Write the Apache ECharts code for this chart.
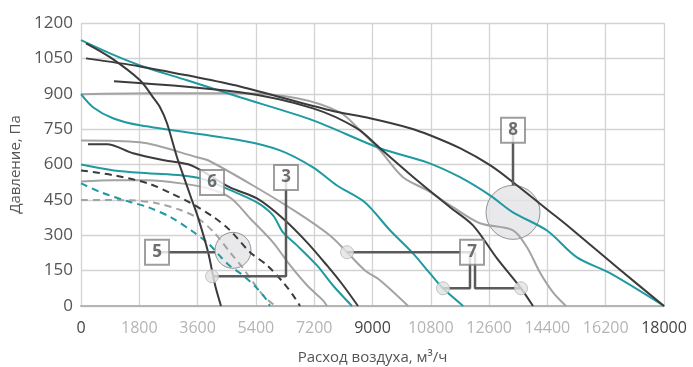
<!DOCTYPE html>
<html>
<head>
<meta charset="utf-8">
<script src="https://cdn.jsdelivr.net/npm/echarts@6/dist/echarts.min.js"></script>
<style>
html,body{margin:0;padding:0;background:#fff;}
#chart{width:693px;height:367px;}
</style>
</head>
<body>
<div id="chart"></div>
<script>
// ---- axis ticks ----
const xTicks = [0,1800,3600,5400,7200,9000,10800,12600,14400,16200,18000];
const yTicks = [0,150,300,450,600,750,900,1050,1200];
const xDarkLabels = [0,9000,18000];

// ---- curves: [flow m3/h, pressure Pa] ----
const teal1 = [[0,1127],[895,1071],[1822,1020],[3273,957],[4909,885],[7163,787],[9231,669],[10683,609],[11701,546],[12628,469],[13338,397],[14387,320],[15314,206],[16333,139],[18000,0]];
const teal2 = [[0,898],[370,843],[988,796],[1822,766],[4909,703],[6144,660],[7163,588],[7904,511],[8769,439],[9540,321],[10250,223],[10775,138],[11177,75],[11800,0]];
const teal3 = [[0,600],[1019,575],[2069,563],[3087,554],[3705,541],[4631,490],[5434,439],[5928,384],[6237,312],[6669,257],[7286,172],[7780,87],[8367,0]];
const tealDash = [[0,520],[618,482],[1544,440],[2069,419],[2779,376],[3396,321],[3921,266],[4323,207],[4600,170],[5002,130],[5434,75],[5743,24],[5835,0]];

const dark1 = [[154,1050],[1822,1016],[3273,978],[4909,931],[7688,830],[8923,796],[10158,754],[10776,724],[11701,669],[12628,597],[13338,525],[14480,400],[15098,332],[16549,164],[18000,0]];
const dark2 = [[154,1114],[895,1055],[1822,957],[2223,885],[2439,843],[2655,775],[2964,631],[3211,533],[3396,460],[3612,376],[3921,230],[4137,90],[4323,0]];
const dark3 = [[1019,953],[4909,906],[7163,838],[8522,753],[9231,669],[10374,533],[11393,419],[12103,342],[12844,202],[13585,75],[13955,0]];
const dark4 = [[216,686],[803,686],[1606,648],[2563,618],[3396,597],[4600,503],[5434,456],[6237,371],[6978,270],[7595,172],[8089,88],[8552,0]];
const darkDash = [[0,575],[1019,554],[2069,520],[2779,478],[3396,436],[4106,376],[4600,321],[5218,228],[5743,173],[6237,101],[6545,46],[6762,0]];

const gray1 = [[0,898],[2130,902],[4909,902],[6669,881],[7997,821],[8614,745],[9231,660],[9942,546],[10683,491],[11485,419],[12319,351],[13338,321],[13770,249],[14171,142],[14573,58],[14975,0]];
const gray2 = [[0,702],[1822,694],[3582,631],[3921,618],[5311,511],[6669,397],[7688,299],[8213,228],[8769,151],[9231,109],[10100,0]];
const gray3 = [[0,528],[1019,533],[2069,533],[3087,520],[3921,499],[4631,457],[5218,372],[5928,270],[6453,173],[6978,88],[7472,24],[7595,0]];
const grayDash = [[0,450],[1544,448],[2377,435],[3087,406],[3612,372],[4106,312],[4600,228],[5002,160],[5311,101],[5619,46],[5990,0]];

// ---- annotations ----
const bigCircles = [[4693,236,36],[13338,397,54]];          // [flow, Pa, diameter]
const smallMarkers = [[4045,126],[8213,228],[11177,75],[13585,75]];
const labelBoxes = [['3',6329,545],['5',2347,228],['6',4045,524],['7',12072,228],['8',13338,745]];
const leaders = [
  [[13338,745],[13338,512]],
  [[2347,228],[4137,228]],
  [[6329,545],[6329,126],[4045,126]],
  [[12072,228],[8213,228]],
  [[12010,228],[12010,75],[11177,75]],
  [[12165,228],[12165,75],[13585,75]]
];

const TEAL = '#1e9aa0', DARK = '#3b3b3b', GRAY = '#a3a3a3';
const FONT = 'Open Sans, Lato, sans-serif';

function curve(data, color, dashed) {
  return {
    type: 'line', data: data, smooth: 0.3, symbol: 'none', z: 3,
    lineStyle: { color: color, width: 2, type: dashed ? [7, 5] : 'solid' },
    silent: true, animation: false
  };
}

const series = [
  {
    type: 'scatter', z: 2, silent: true, animation: false,
    data: bigCircles.map(c => ({ value: [c[0], c[1]], symbolSize: c[2] })),
    itemStyle: { color: '#e3e4e6', borderColor: '#7a7a7a', borderWidth: 1 }
  },
  curve(gray1, GRAY), curve(gray2, GRAY), curve(gray3, GRAY), curve(grayDash, GRAY, true),
  curve(teal1, TEAL), curve(teal2, TEAL), curve(teal3, TEAL), curve(tealDash, TEAL, true),
  curve(dark1, DARK), curve(dark2, DARK), curve(dark3, DARK), curve(dark4, DARK), curve(darkDash, DARK, true)
];
leaders.forEach(l => series.push({
  type: 'line', data: l, symbol: 'none', z: 4, silent: true, animation: false,
  lineStyle: { color: '#5a5a5a', width: 2.5 }
}));
series.push({
  type: 'scatter', z: 5, silent: true, animation: false, symbolSize: 13,
  data: smallMarkers,
  itemStyle: { color: '#e2e2e2', borderColor: '#b5b5b5', borderWidth: 1 }
});
series.push({
  type: 'scatter', z: 6, silent: true, animation: false, symbol: 'rect', symbolSize: [24, 25],
  data: labelBoxes.map(b => ({ name: b[0], value: [b[1], b[2]] })),
  itemStyle: { color: '#ffffff', borderColor: '#858585', borderWidth: 2 },
  label: { show: true, position: 'inside', formatter: '{b}', color: '#4a4a4a', fontSize: 17, fontWeight: 'bold', fontFamily: FONT }
});

const chart = echarts.init(document.getElementById('chart'), null, { renderer: 'canvas' });
chart.setOption({
  animation: false,
  backgroundColor: '#fff',
  grid: { left: 81, right: 29, top: 23, bottom: 61, outerBoundsMode: 'none', containLabel: false },
  xAxis: {
    type: 'value', min: xTicks[0], max: xTicks[xTicks.length - 1], interval: xTicks[1] - xTicks[0],
    name: 'Расход воздуха, м³/ч', nameLocation: 'middle', nameGap: 44,
    nameTextStyle: { color: '#555', fontSize: 15, fontFamily: FONT },
    axisLine: { show: true, lineStyle: { color: '#b4b4b4', width: 2 } },
    axisTick: { show: false },
    splitLine: { show: true, lineStyle: { color: '#d3d3d3', width: 1.3 } },
    axisLabel: {
      margin: 14, fontFamily: FONT, fontSize: 16,
      formatter: v => (xDarkLabels.indexOf(v) >= 0 ? '{d|' + v + '}' : '{l|' + v + '}'),
      rich: { d: { color: '#444', fontSize: 16, fontFamily: FONT }, l: { color: '#b5b5b5', fontSize: 16, fontFamily: FONT } }
    }
  },
  yAxis: {
    type: 'value', min: yTicks[0], max: yTicks[yTicks.length - 1], interval: yTicks[1] - yTicks[0],
    name: 'Давление, Па', nameLocation: 'middle', nameGap: 44,
    nameTextStyle: { color: '#555', fontSize: 15, fontFamily: FONT },
    axisLine: { show: false },
    axisTick: { show: false },
    splitLine: { show: true, lineStyle: { color: '#d3d3d3', width: 1.3 } },
    axisLabel: { margin: 8, color: '#555', fontSize: 17, fontFamily: FONT, formatter: v => String(v) }
  },
  series: series
});
</script>
</body>
</html>
